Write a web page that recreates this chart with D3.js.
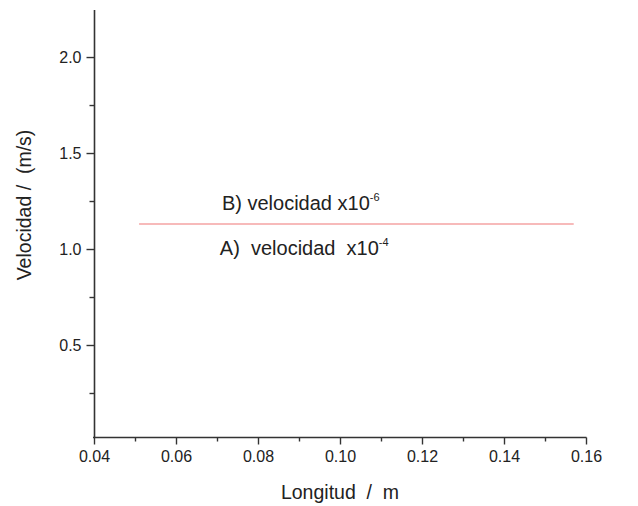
<!DOCTYPE html>
<html><head><meta charset="utf-8">
<script src="https://cdn.jsdelivr.net/npm/d3@7"></script>
<style>
html,body{margin:0;padding:0;background:#fff;}
text{font-family:Arial,"Liberation Sans",sans-serif;}
</style></head>
<body>
<svg id="chart" width="638" height="506"></svg>
<script>
// Data
const lineX = [0.051, 0.157];
const lineY = [1.13, 1.13];
const xMajorTicks = [0.04, 0.06, 0.08, 0.10, 0.12, 0.14, 0.16];
const xMinorTicks = [0.05, 0.07, 0.09, 0.11, 0.13, 0.15];
const yMajorTicks = [0.5, 1.0, 1.5, 2.0];
const yMinorTicks = [0.25, 0.75, 1.25, 1.75];
const xTitle = "Longitud  /  m";
const yTitle = "Velocidad /  (m/s)";
const annotations = [
  {label: "B) velocidad x10", exp: "-6", x: 0.0712, y: 1.203},
  {label: "A)  velocidad  x10", exp: "-4", x: 0.0707, y: 0.969}
];

const svg = d3.select("#chart");
const x = d3.scaleLinear().domain([0.04, 0.16]).range([94, 586]);
const y = d3.scaleLinear().domain([0.0208, 2.245]).range([437, 10]);
const axisColor = "#333";

// Y axis
const yAx = svg.append("g").attr("transform", "translate(94.5,0)");
yAx.call(d3.axisLeft(y).tickValues(yMajorTicks).tickFormat(d3.format(".1f")).tickSize(8).tickPadding(5));
yAx.append("g").call(d3.axisLeft(y).tickValues(yMinorTicks).tickFormat("").tickSize(5));
yAx.selectAll(".domain").remove();
yAx.append("line").attr("x1",0).attr("x2",0).attr("y1",y.range()[1]).attr("y2",y.range()[0]+1).attr("stroke",axisColor).attr("stroke-width",1.6);
yAx.selectAll(".tick line").attr("stroke",axisColor).attr("stroke-width",1.4);
yAx.selectAll(".tick text").attr("font-size",16).attr("fill","#222").attr("font-family","Arial, 'Liberation Sans', sans-serif");

// X axis
const xAx = svg.append("g").attr("transform", "translate(0,437.5)");
xAx.call(d3.axisBottom(x).tickValues(xMajorTicks).tickFormat(d3.format(".2f")).tickSize(7).tickPadding(6));
xAx.append("g").call(d3.axisBottom(x).tickValues(xMinorTicks).tickFormat("").tickSize(4));
xAx.selectAll(".domain").remove();
xAx.append("line").attr("x1",x.range()[0]-1).attr("x2",x.range()[1]+0.5).attr("y1",0).attr("y2",0).attr("stroke",axisColor).attr("stroke-width",1.6);
xAx.selectAll(".tick line").attr("stroke",axisColor).attr("stroke-width",1.4);
xAx.selectAll(".tick text").attr("font-size",16).attr("fill","#222").attr("font-family","Arial, 'Liberation Sans', sans-serif");

// Line
svg.append("path")
  .datum(lineX.map((d,i)=>[d,lineY[i]]))
  .attr("d", d3.line().x(d=>x(d[0])).y(d=>y(d[1])))
  .attr("stroke", "#f4a3a3").attr("stroke-width", 1.4).attr("fill","none");

// Annotations
annotations.forEach(a=>{
  const t = svg.append("text").attr("x", x(a.x)).attr("y", y(a.y))
    .attr("font-size", 20).attr("fill","#222").attr("xml:space","preserve").style("white-space","pre");
  t.append("tspan").text(a.label);
  t.append("tspan").attr("font-size",11).attr("dy",-9).text(a.exp);
});

// Axis titles
svg.append("text").attr("x", 340).attr("y", 499).attr("text-anchor","middle")
  .attr("font-size",19.5).attr("fill","#222").style("white-space","pre").text(xTitle);
svg.append("text").attr("transform","translate(31,205) rotate(-90)").attr("text-anchor","middle")
  .attr("font-size",19.5).attr("fill","#222").style("white-space","pre").text(yTitle);
</script>
</body></html>
